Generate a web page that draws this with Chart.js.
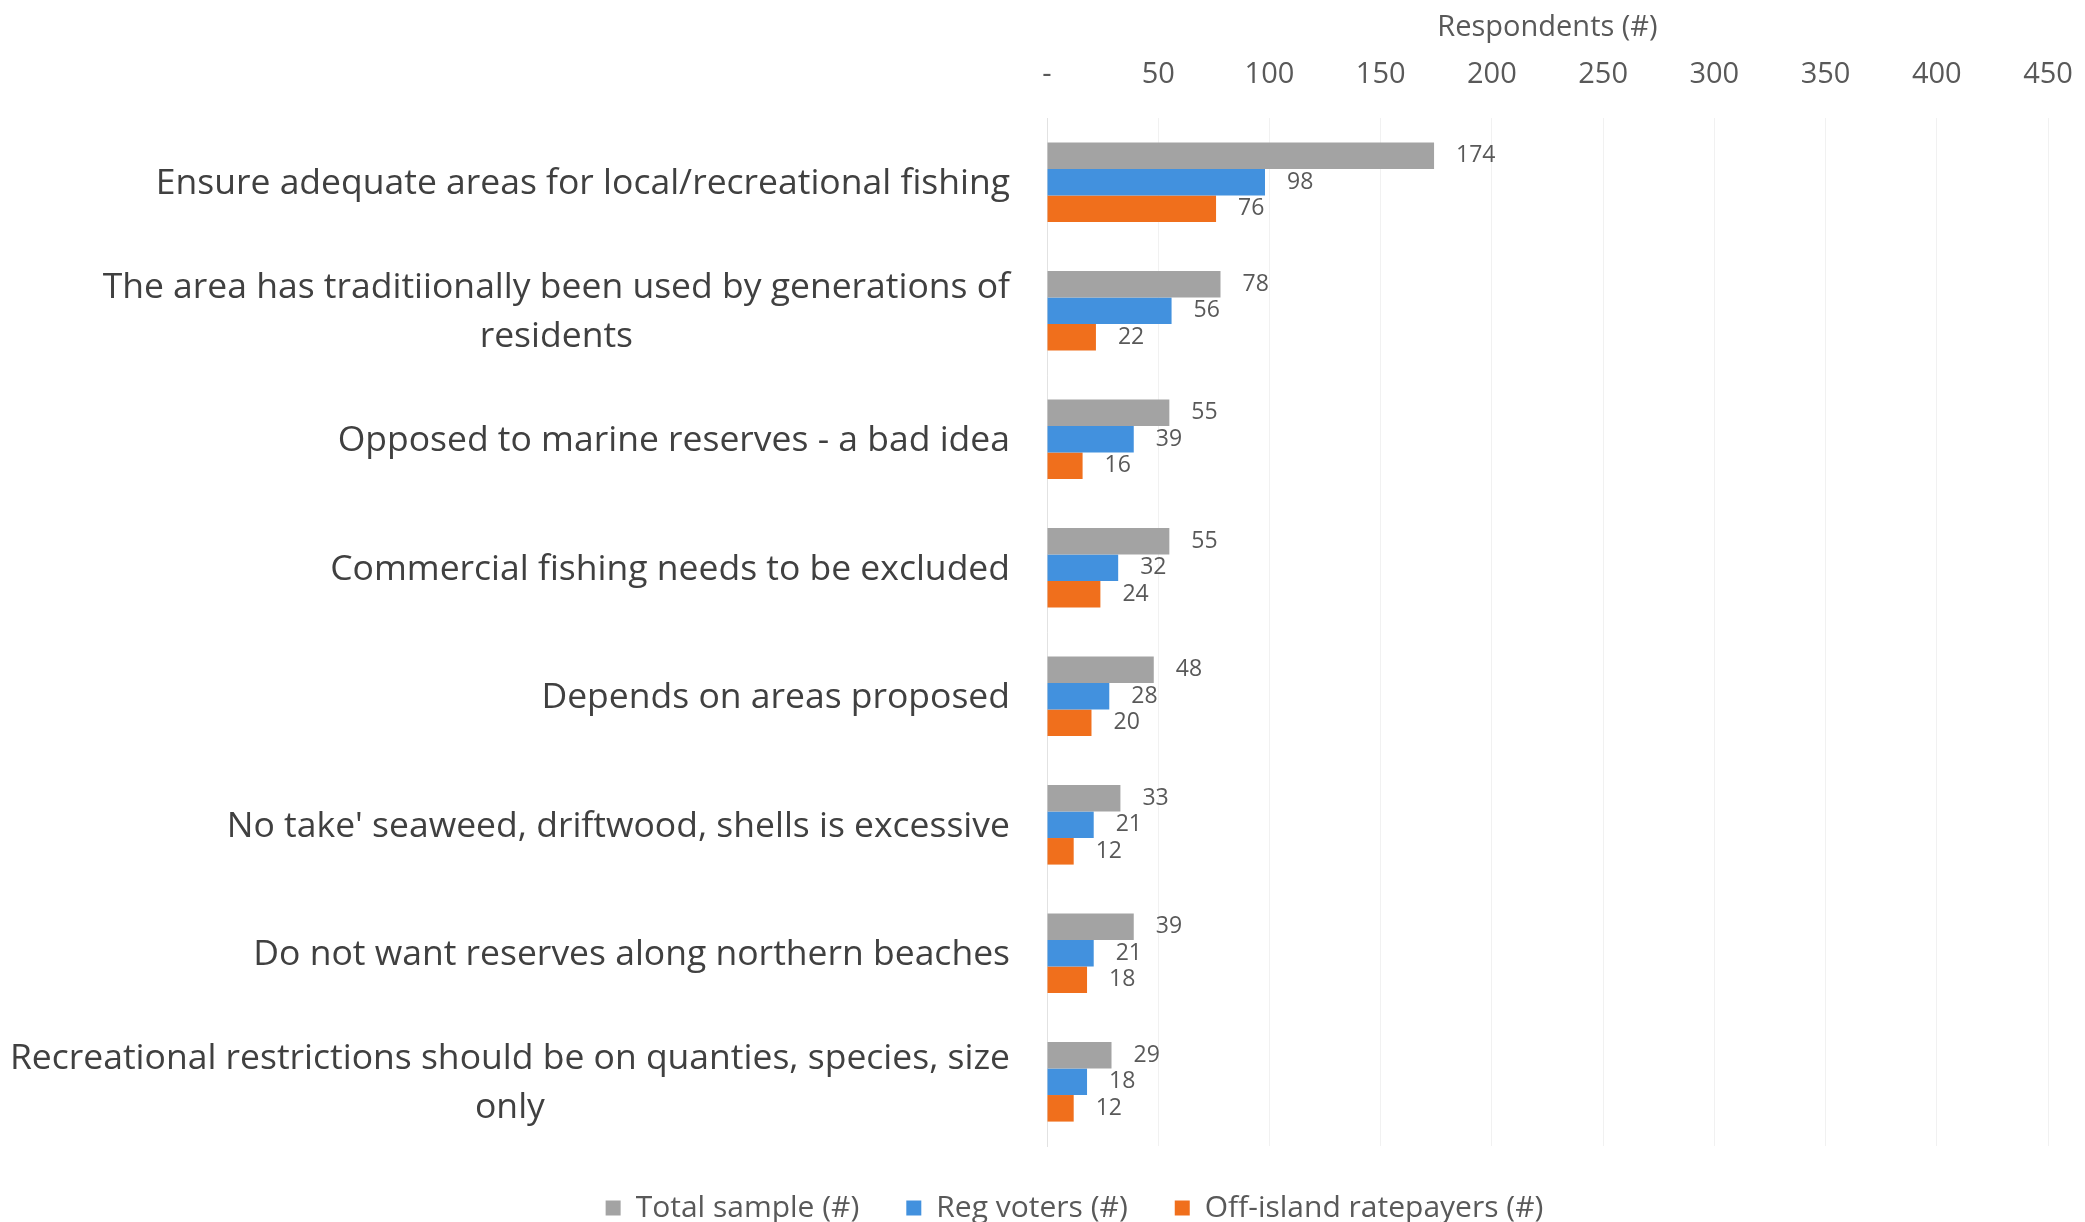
<!DOCTYPE html>
<html>
<head>
<meta charset="utf-8">
<script src="https://cdn.jsdelivr.net/npm/chart.js@4/dist/chart.umd.min.js"></script>
<style>
  html, body { margin: 0; padding: 0; background: #fff; }
  canvas { display: block; }
</style>
</head>
<body>
<canvas id="myChart" width="2085" height="1222"></canvas>
<script>
	// Categories (long ones wrapped onto two lines)
	let categories = [
		"Ensure adequate areas for local/recreational fishing",
		["The area has traditiionally been used by generations of", "residents"],
		"Opposed to marine reserves - a bad idea",
		"Commercial fishing needs to be excluded",
		"Depends on areas proposed",
		"No take' seaweed, driftwood, shells is excessive",
		"Do not want reserves along northern beaches",
		["Recreational restrictions should be on quanties, species, size", "only"]
	];

	// Series values
	let totalSample = [174, 78, 55, 55, 48, 33, 39, 29];
	let regVoters = [98, 56, 39, 32, 28, 21, 21, 18];
	let offIsland = [76, 22, 16, 24, 20, 12, 18, 12];

	// Axis
	let axisMax = 450;
	let axisStep = 50;

	let fontName = "'Open Sans', Lato, sans-serif";

	// Value printed just past the end of each bar
	let valueLabels = {
		id: 'valueLabels',
		afterDatasetsDraw(chart) {
			let ctx = chart.ctx;
			ctx.save();
			ctx.font = "23px " + fontName;
			ctx.fillStyle = "#595959";
			ctx.textAlign = "left";
			ctx.textBaseline = "middle";
			chart.data.datasets.forEach((ds, i) => {
				let meta = chart.getDatasetMeta(i);
				meta.data.forEach((bar, j) => {
					ctx.fillText(ds.data[j], bar.x + 22, bar.y);
				});
			});
			ctx.restore();
		}
	};

	// Category labels: block right-aligned to the axis, wrapped lines centred in the block
	let categoryLabels = {
		id: 'categoryLabels',
		afterDraw(chart) {
			let ctx = chart.ctx;
			let yScale = chart.scales.y;
			let right = chart.chartArea.left - 37;
			let lineH = 49;
			ctx.save();
			ctx.font = "35.5px " + fontName;
			ctx.fillStyle = "#404040";
			ctx.textAlign = "center";
			ctx.textBaseline = "middle";
			chart.data.labels.forEach((label, i) => {
				let lines = Array.isArray(label) ? label : [label];
				let w = Math.max(...lines.map(l => ctx.measureText(l).width));
				let cx = right - w / 2;
				let cy = yScale.getPixelForTick(i) + 2;
				let y0 = cy - (lines.length - 1) * lineH / 2;
				lines.forEach((l, k) => ctx.fillText(l, cx, y0 + k * lineH));
			});
			ctx.restore();
		}
	};

	let ctx = document.getElementById('myChart').getContext('2d');

	let chart = new Chart(ctx, {
		type: 'bar',
		data: {
			labels: categories,
			datasets: [{
				label: 'Total sample (#)',
				data: totalSample,
				backgroundColor: '#a3a3a3'
			}, {
				label: 'Reg voters (#)',
				data: regVoters,
				backgroundColor: '#4291de'
			}, {
				label: 'Off-island ratepayers (#)',
				data: offIsland,
				backgroundColor: '#f06f1c'
			}]
		},
		options: {
			indexAxis: 'y',
			responsive: false,
			animation: false,
			datasets: {
				bar: {
					categoryPercentage: 0.62,
					barPercentage: 1.0
				}
			},
			layout: {
				padding: { top: 0, right: 0, bottom: -11, left: 64 }
			},
			scales: {
				x: {
					position: 'top',
					min: 0,
					max: axisMax,
					grid: {
						color: '#f1f1f1',
						drawTicks: false
					},
					border: { display: false },
					ticks: {
						stepSize: axisStep,
						padding: 26,
						color: '#595959',
						font: { family: fontName, size: 29 },
						callback: (v) => v === 0 ? '-' : v
					},
					title: {
						display: true,
						text: 'Respondents (#)',
						color: '#595959',
						font: { family: fontName, size: 29 },
						padding: { top: 10, bottom: 0 }
					},
					afterFit: (scale) => {
						scale.height = 118;
						scale.paddingLeft = 0;
						scale.paddingRight = 37;
					}
				},
				y: {
					grid: { display: false },
					border: { display: true, color: '#e2e2e2' },
					ticks: { display: false },
					afterFit: (scale) => { scale.width = 983; }
				}
			},
			plugins: {
				legend: {
					position: 'bottom',
					labels: {
						boxWidth: 15,
						boxHeight: 15,
						padding: 47,
						color: '#595959',
						font: { family: fontName, size: 30 }
					}
				},
				tooltip: { enabled: false }
			}
		},
		plugins: [valueLabels, categoryLabels]
	});
</script>
</body>
</html>
